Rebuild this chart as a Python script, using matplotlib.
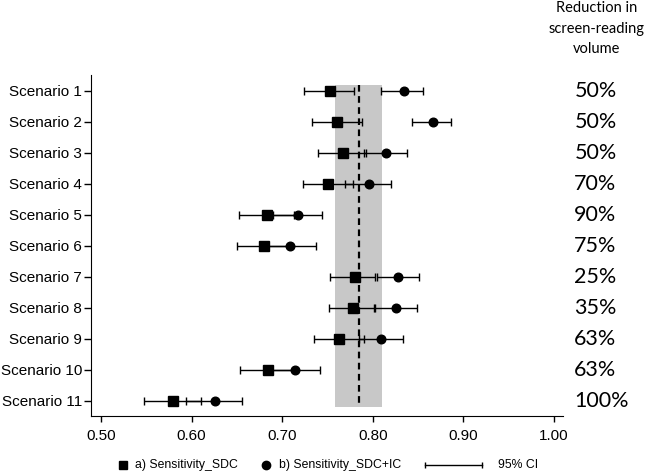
import matplotlib.pyplot as plt
from matplotlib.lines import Line2D

# Scenario labels and reduction in screen-reading volume
scenarios = ['Scenario 1', 'Scenario 2', 'Scenario 3', 'Scenario 4', 'Scenario 5',
             'Scenario 6', 'Scenario 7', 'Scenario 8', 'Scenario 9', 'Scenario 10',
             'Scenario 11']
reduction = ['50%', '50%', '50%', '70%', '90%', '75%', '25%', '35%', '63%', '63%', '100%']

# a) Sensitivity_SDC with 95% CI
sdc = [0.753, 0.761, 0.767, 0.751, 0.683, 0.680, 0.780, 0.778, 0.763, 0.684, 0.579]
sdc_lo = [0.724, 0.733, 0.740, 0.723, 0.652, 0.650, 0.753, 0.752, 0.735, 0.654, 0.548]
sdc_hi = [0.779, 0.788, 0.793, 0.778, 0.713, 0.709, 0.803, 0.803, 0.790, 0.713, 0.610]

# b) Sensitivity_SDC+IC with 95% CI
ic = [0.834, 0.866, 0.815, 0.796, 0.717, 0.709, 0.828, 0.826, 0.809, 0.714, 0.626]
ic_lo = [0.809, 0.843, 0.790, 0.769, 0.690, 0.681, 0.805, 0.801, 0.785, 0.686, 0.594]
ic_hi = [0.856, 0.886, 0.838, 0.820, 0.744, 0.737, 0.851, 0.849, 0.833, 0.742, 0.656]

# reference band and pooled value
band_lo = 0.758
band_hi = 0.810
pooled = 0.785

xticks = [0.50, 0.60, 0.70, 0.80, 0.90, 1.00]
header = ['Reduction in', 'screen-reading', 'volume']

rows = list(range(1, len(scenarios) + 1))

fig = plt.figure(figsize=(6.49, 4.74), dpi=100)
ax = fig.add_axes([91 / 649, 1 - 416 / 474, (563 - 91) / 649, (416 - 75) / 474])

# grey band and dashed line
ax.fill_betweenx([0.8, 11.2], band_lo, band_hi, color='#c8c8c8', lw=0, zorder=0)
ax.plot([pooled, pooled], [0.8, 11.2], color='black', lw=1.6,
        linestyle=(0, (3, 2)), zorder=1)

sdc_err = [[s - l for s, l in zip(sdc, sdc_lo)], [h - s for s, h in zip(sdc, sdc_hi)]]
ic_err = [[s - l for s, l in zip(ic, ic_lo)], [h - s for s, h in zip(ic, ic_hi)]]

ax.errorbar(sdc, rows, xerr=sdc_err, fmt='s', color='black', ms=6.5,
            elinewidth=1, capsize=2.6, capthick=1, zorder=3)
ax.errorbar(ic, rows, xerr=ic_err, fmt='o', color='black', ms=6.2,
            elinewidth=1, capsize=2.6, capthick=1, zorder=3)

ax.set_xlim(0.489, 1.010)
ax.set_ylim(11.484, 0.484)
ax.set_xticks(xticks)
ax.set_xticklabels(['%.2f' % t for t in xticks], fontsize=11, family='Liberation Sans')
ax.set_yticks(rows)
ax.set_yticklabels(scenarios, fontsize=11, family='Liberation Sans')
ax.tick_params(axis='x', length=4, width=1, pad=5)
ax.tick_params(axis='y', length=5, width=1, pad=1.5)
for side in ['top', 'right']:
    ax.spines[side].set_visible(False)

# percentages on the right
for r, txt in zip(rows, reduction):
    ax.text(1.024, r, txt, transform=ax.get_yaxis_transform(), fontsize=15.5,
            family='Lato', ha='left', va='center', clip_on=False)

# header over the percentages
for i, line in enumerate(header):
    fig.text(597 / 649, 1 - (12 + 20.5 * i) / 474, line, fontsize=10.5,
             family='Lato', ha='center', va='baseline')

# legend drawn at the bottom
ly = 1 - 465 / 474
fig.add_artist(Line2D([122.7 / 649], [ly], marker='s', ms=6, color='black',
                      transform=fig.transFigure))
fig.text(135 / 649, ly, 'a) Sensitivity_SDC', fontsize=8.8, family='Liberation Sans', va='center')
fig.add_artist(Line2D([265.7 / 649], [ly], marker='o', ms=6, color='black',
                      transform=fig.transFigure))
fig.text(279 / 649, ly, 'b) Sensitivity_SDC+IC', fontsize=8.8, family='Liberation Sans', va='center')
fig.add_artist(Line2D([425 / 649, 482 / 649], [ly, ly], color='black', lw=1,
                      marker='|', ms=5, mew=1, transform=fig.transFigure))
fig.text(498 / 649, ly, '95% CI', fontsize=8.8, family='Liberation Sans', va='center')

fig.savefig('out.png', dpi=100)
